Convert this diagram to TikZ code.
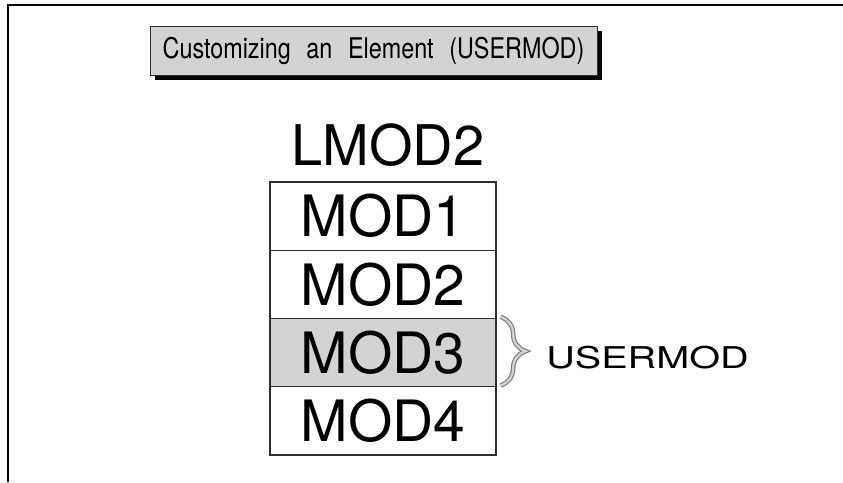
\documentclass[tikz,border=0pt]{standalone}
\usepackage{fontspec}
\setmainfont{TeX Gyre Heros}
\newfontfamily\condfont[FakeStretch=0.82, WordSpace=2.4]{TeX Gyre Heros}
\newfontfamily\widefont[FakeStretch=1.32]{TeX Gyre Heros}
\usetikzlibrary{positioning, decorations.pathreplacing, shadows}
\definecolor{cgrey}{HTML}{D2D3D5}
\definecolor{cline}{HTML}{2E2E2E}
\definecolor{cbrace}{HTML}{808080}
\tikzset{
  every picture/.style={line width=1.3pt},
  modbox/.style={draw=cline, fill=#1, minimum width=226pt, minimum height=68.25pt, inner sep=0pt, font=\fontsize{57}{60}\selectfont},
  modbox/.default=white,
  titlebox/.style={draw=cline, fill=cgrey, line width=1pt, minimum width=447pt, minimum height=49pt, inner sep=0pt,
    font=\condfont\fontsize{28.5}{30}\selectfont, drop shadow={shadow xshift=5pt, shadow yshift=-5pt, fill=black, opacity=1}},
  brace/.style={decorate, decoration={brace, amplitude=25pt}, draw=cbrace, line width=1.2pt, double=cgrey, double distance=2.2pt},
}
\begin{document}
\begin{tikzpicture}[x=1pt, y=-1pt,
  label/.style={inner sep=0pt, font=\widefont\fontsize{30}{32}\selectfont}]
  \useasboundingbox (0,0) rectangle (843,482);
  % frame
  \draw[line width=1.5pt] (8,482) -- (8,5) -- (843,5);
  \node[titlebox] (title) at (373.5, 50.5) {Customizing an Element (USERMOD)};
  % stack of members
  \foreach \i/\c in {1/white, 2/white, 3/cgrey, 4/white} {
    \node[modbox=\c] (mod\i) at (383, 147.9 + 68.25*\i) {MOD\i};
  }
  \node[inner sep=0pt, font=\fontsize{56}{58}\selectfont, above=14pt of mod1.north, xshift=5pt] (lmod) {LMOD2};
  \draw[brace] ([xshift=4pt, yshift=1pt]mod3.north east) -- ([xshift=4pt, yshift=2pt]mod3.south east);
  \node[label, right=49pt of mod3.east, yshift=-5pt] (usr) {USERMOD};
\end{tikzpicture}
\end{document}
